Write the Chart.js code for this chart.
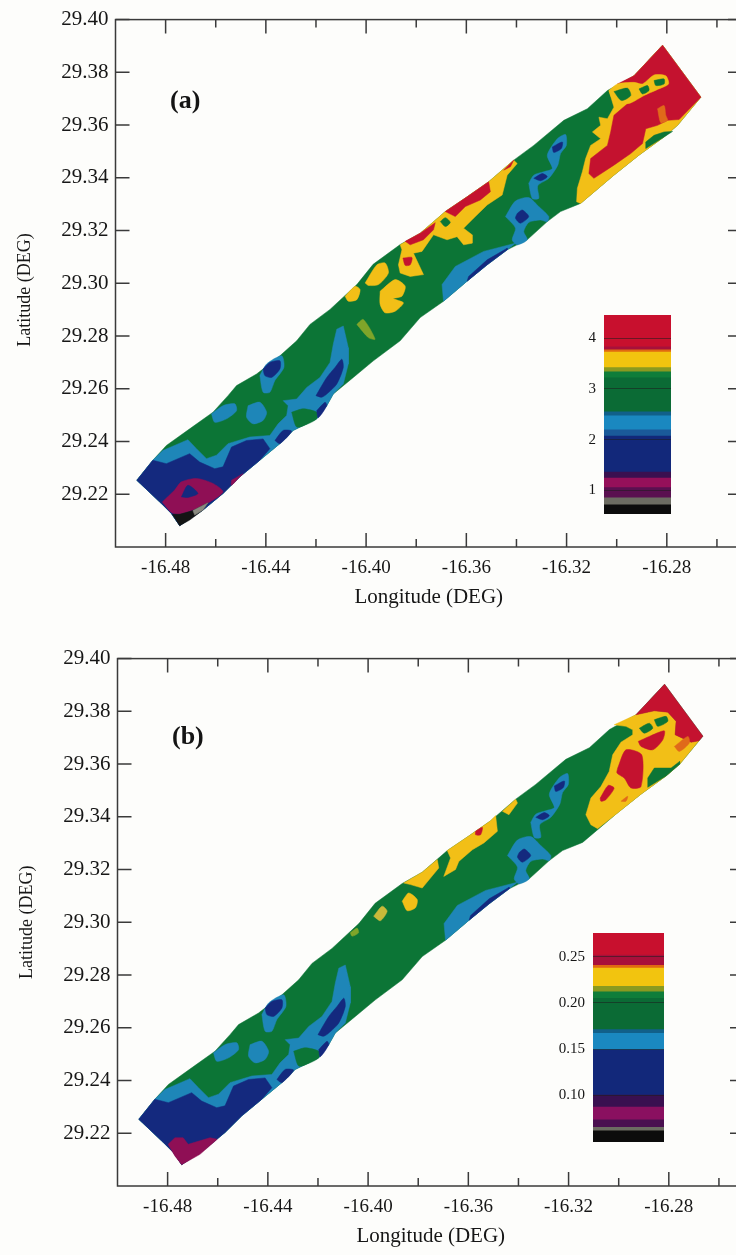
<!DOCTYPE html>
<html>
<head>
<meta charset="utf-8">
<title>Longitude / Latitude contour maps</title>
<script src="https://cdn.jsdelivr.net/npm/chart.js@4"></script>
<style>
  html, body { margin: 0; width: 736px; height: 1255px; overflow: hidden; background: #fdfdfb; }
  #page { position: relative; width: 736px; height: 1255px; filter: blur(0.5px); }
  canvas { position: absolute; }
  .tag { position: absolute; font: bold 26px "Liberation Serif", serif; color: #141414; }
</style>
</head>
<body>
<div id="page">
  <canvas id="mapA" style="left:0;top:0"></canvas>
  <canvas id="mapB" style="left:2px;top:639px"></canvas>
  <canvas id="barA" style="left:570px;top:298px"></canvas>
  <canvas id="barB" style="left:555px;top:916px"></canvas>
  <div class="tag" style="left:170px;top:85px">(a)</div>
  <div class="tag" style="left:172px;top:721px">(b)</div>
</div>
<script>
'use strict';

// ── Axis ticks ────────────────────────────────────────────────
const lonMajor = [-16.48, -16.44, -16.40, -16.36, -16.32, -16.28];
const lonMinor = [-16.46, -16.42, -16.38, -16.34, -16.30, -16.26];
const latTicks = [29.22, 29.24, 29.26, 29.28, 29.30, 29.32, 29.34, 29.36, 29.38, 29.40];

// ── Colour bars ───────────────────────────────────────────────
const barTicksA = [1, 2, 3, 4];
const barEdgesA = [0.53, 0.71, 0.85, 1.05, 1.24, 1.36, 2.07, 2.19, 2.47, 2.55, 3.22, 3.34, 3.42, 3.73, 3.77, 3.83, 4.01, 4.46];
const barTicksB = [0.10, 0.15, 0.20, 0.25];
const barEdgesB = [0.049, 0.061, 0.065, 0.073, 0.087, 0.100, 0.149, 0.167, 0.171, 0.205, 0.212, 0.218, 0.238, 0.241, 0.252, 0.276];
const barColorsA = ['#0c0c0c', '#6c6c62', '#5a1050', '#95105a', '#3a1050', '#12287a', '#1a5a9a', '#1a88c0', '#11608a', '#0b6b35', '#0f7d3a', '#8a9a20', '#f2c40f', '#e06a10', '#a8103a', '#c8102e', '#c8102e'];
const barColorsB = ['#0c0c0c', '#6c6c62', '#4a1050', '#8a1060', '#3a1050', '#12287a', '#1a88c0', '#11608a', '#0b6b35', '#0f7d3a', '#8a9a20', '#f2c40f', '#e06a10', '#a8103a', '#c8102e'];

// ── Track outline [lon, lat] ──────────────────────────────────
const outline = [
  [-16.4915,29.2253],[-16.4851,29.2329],[-16.4797,29.2385],[-16.4704,29.2448],[-16.4611,29.2511],[-16.4551,29.2574],
  [-16.4517,29.2612],[-16.4437,29.2656],[-16.4344,29.2725],[-16.4277,29.2782],[-16.4224,29.2844],[-16.4144,29.2901],
  [-16.4037,29.2995],[-16.3972,29.3072],[-16.3864,29.3147],[-16.3784,29.3190],[-16.3684,29.3272],[-16.3597,29.3328],
  [-16.3511,29.3385],[-16.3411,29.3467],[-16.3331,29.3523],[-16.3211,29.3618],[-16.3117,29.3662],[-16.3037,29.3731],
  [-16.2931,29.3787],[-16.2817,29.3903],[-16.2664,29.3706],[-16.2757,29.3599],[-16.2811,29.3555],[-16.2911,29.3486],
  [-16.3011,29.3410],[-16.3144,29.3303],[-16.3224,29.3272],[-16.3277,29.3234],[-16.3357,29.3165],[-16.3437,29.3127],
  [-16.3517,29.3070],[-16.3597,29.3008],[-16.3691,29.2932],[-16.3784,29.2870],[-16.3864,29.2782],[-16.3971,29.2706],
  [-16.4051,29.2643],[-16.4131,29.2580],[-16.4157,29.2536],[-16.4197,29.2486],[-16.4291,29.2442],[-16.4344,29.2392],
  [-16.4424,29.2329],[-16.4504,29.2266],[-16.4571,29.2203],[-16.4651,29.2140],[-16.4744,29.2081],[-16.4777,29.2127],
  [-16.4817,29.2165]
];

// ── Contours shared by both panels ────────────────────────────
const tealMain = [
  [-16.4851,29.2329],[-16.4811,29.2366],[-16.4711,29.2407],[-16.4677,29.2373],[-16.4637,29.2335],[-16.4597,29.2348],
  [-16.4551,29.2392],[-16.4464,29.2417],[-16.4384,29.2423],[-16.4351,29.2467],[-16.4317,29.2499],[-16.4311,29.2536],
  [-16.4331,29.2555],[-16.4277,29.2561],[-16.4237,29.2605],[-16.4184,29.2643],[-16.4144,29.2700],[-16.4131,29.2769],
  [-16.4117,29.2826],[-16.4091,29.2838],[-16.4071,29.2756],[-16.4071,29.2694],[-16.4091,29.2618],[-16.4131,29.2580],
  [-16.4157,29.2536],[-16.4197,29.2486],[-16.4291,29.2442],[-16.4344,29.2392],[-16.4424,29.2329],[-16.4504,29.2266],
  [-16.4571,29.2203],[-16.4651,29.2140],[-16.4744,29.2081],[-16.4777,29.2127],[-16.4817,29.2165],[-16.4915,29.2253]
];
const greenNotch = [[-16.4297,29.2511],[-16.4251,29.2524],[-16.4197,29.2511],[-16.4197,29.2486],[-16.4237,29.2465],[-16.4277,29.2455]];
const tealPatch1 = [[-16.4617,29.2505],[-16.4571,29.2536],[-16.4524,29.2543],[-16.4517,29.2517],[-16.4557,29.2486],[-16.4604,29.2473]];
const tealPatch2 = [[-16.4471,29.2536],[-16.4424,29.2549],[-16.4397,29.2511],[-16.4411,29.2480],[-16.4451,29.2467],[-16.4477,29.2492]];
const tealPatch3 = [[-16.4424,29.2650],[-16.4397,29.2694],[-16.4337,29.2725],[-16.4328,29.2681],[-16.4364,29.2631],[-16.4384,29.2587],[-16.4411,29.2587]];
const navyMain = [
  [-16.4915,29.2253],[-16.4851,29.2329],[-16.4797,29.2316],[-16.4704,29.2354],[-16.4664,29.2322],[-16.4604,29.2297],
  [-16.4571,29.2304],[-16.4537,29.2379],[-16.4477,29.2404],[-16.4411,29.2410],[-16.4384,29.2373],[-16.4424,29.2329],
  [-16.4504,29.2266],[-16.4571,29.2203],[-16.4651,29.2140],[-16.4744,29.2081],[-16.4777,29.2127],[-16.4817,29.2165]
];
const navyLobe = [[-16.4364,29.2404],[-16.4331,29.2442],[-16.4297,29.2439],[-16.4344,29.2392]];
const navyPatch1 = [[-16.4200,29.2574],[-16.4157,29.2643],[-16.4124,29.2681],[-16.4097,29.2712],[-16.4091,29.2681],[-16.4117,29.2618],[-16.4157,29.2580],[-16.4177,29.2568]];
const navyPatch2 = [[-16.4197,29.2517],[-16.4164,29.2549],[-16.4157,29.2536],[-16.4191,29.2490]];
const navyPatch3 = [[-16.4411,29.2675],[-16.4384,29.2700],[-16.4344,29.2706],[-16.4344,29.2675],[-16.4377,29.2643],[-16.4404,29.2650]];
const tealChain1 = [
  [-16.3444,29.3253],[-16.3404,29.3312],[-16.3351,29.3325],[-16.3311,29.3291],[-16.3271,29.3253],[-16.3277,29.3234],
  [-16.3304,29.3240],[-16.3351,29.3231],[-16.3371,29.3196],[-16.3357,29.3165],[-16.3397,29.3146],[-16.3417,29.3165],[-16.3404,29.3209]
];
const tealChain2 = [
  [-16.3351,29.3379],[-16.3331,29.3410],[-16.3291,29.3423],[-16.3257,29.3435],[-16.3277,29.3486],[-16.3237,29.3548],
  [-16.3204,29.3564],[-16.3201,29.3523],[-16.3224,29.3492],[-16.3235,29.3448],[-16.3271,29.3398],[-16.3315,29.3370],
  [-16.3311,29.3322],[-16.3337,29.3322]
];
const tealLower = [[-16.3697,29.2995],[-16.3644,29.3064],[-16.3531,29.3121],[-16.3404,29.3152],[-16.3437,29.3127],[-16.3517,29.3070],[-16.3597,29.3008],[-16.3691,29.2932]];
const navyLower = [[-16.3591,29.3026],[-16.3517,29.3089],[-16.3437,29.3133],[-16.3437,29.3127],[-16.3517,29.3070],[-16.3597,29.3008]];
const navyDot1 = [[-16.3397,29.3265],[-16.3377,29.3278],[-16.3351,29.3253],[-16.3384,29.3228],[-16.3404,29.3247]];
const navyDot2 = [[-16.3257,29.3517],[-16.3217,29.3536],[-16.3221,29.3511],[-16.3251,29.3496]];
const navyDot3 = [[-16.3331,29.3398],[-16.3297,29.3416],[-16.3277,29.3404],[-16.3304,29.3389]];

// ── Panel (a) only ────────────────────────────────────────────
const magentaA = [[-16.4813,29.2171],[-16.4764,29.2216],[-16.4737,29.2247],[-16.4677,29.2260],[-16.4611,29.2241],[-16.4571,29.2209],[-16.4624,29.2171],[-16.4691,29.2140],[-16.4744,29.2125],[-16.4777,29.2131]];
const holeA = [[-16.4737,29.2190],[-16.4711,29.2234],[-16.4671,29.2203],[-16.4711,29.2188]];
const magentaSmallA = [[-16.4537,29.2253],[-16.4491,29.2278],[-16.4504,29.2266],[-16.4537,29.2234]];
const blackA = [[-16.4773,29.2124],[-16.4744,29.2124],[-16.4691,29.2138],[-16.4631,29.2168],[-16.4651,29.2140],[-16.4704,29.2102],[-16.4744,29.2081]];
const greyA = [[-16.4691,29.2138],[-16.4631,29.2168],[-16.4651,29.2140],[-16.4684,29.2121]];
const limeA = [[-16.4037,29.2844],[-16.4011,29.2863],[-16.3964,29.2788],[-16.3991,29.2794]];
const yellowA1 = [[-16.4084,29.2951],[-16.4044,29.2989],[-16.4024,29.2976],[-16.4037,29.2938],[-16.4071,29.2932]];
const yellowA2 = [[-16.4004,29.3001],[-16.3957,29.3070],[-16.3924,29.3077],[-16.3911,29.3039],[-16.3951,29.2995],[-16.3991,29.2992]];
const yellowA3 = [[-16.3944,29.2970],[-16.3884,29.3014],[-16.3844,29.2989],[-16.3857,29.2951],[-16.3891,29.2942],[-16.3851,29.2926],[-16.3884,29.2894],[-16.3924,29.2888],[-16.3944,29.2920]];
const yellowMidA = [
  [-16.3864,29.3146],[-16.3784,29.3190],[-16.3684,29.3272],[-16.3597,29.3328],[-16.3511,29.3385],[-16.3411,29.3467],
  [-16.3397,29.3454],[-16.3437,29.3410],[-16.3457,29.3335],[-16.3517,29.3297],[-16.3571,29.3247],[-16.3611,29.3209],
  [-16.3577,29.3184],[-16.3577,29.3152],[-16.3611,29.3146],[-16.3637,29.3177],[-16.3677,29.3165],[-16.3731,29.3184],
  [-16.3777,29.3121],[-16.3811,29.3114],[-16.3771,29.3033],[-16.3824,29.3026],[-16.3864,29.3039],[-16.3871,29.3070],[-16.3857,29.3127]
];
const redDotA = [[-16.3853,29.3096],[-16.3817,29.3098],[-16.3824,29.3070],[-16.3844,29.3068]];
const redStripA1 = [[-16.3844,29.3159],[-16.3784,29.3190],[-16.3724,29.3230],[-16.3731,29.3203],[-16.3771,29.3165],[-16.3824,29.3146]];
const redStripA2 = [[-16.3684,29.3272],[-16.3597,29.3328],[-16.3511,29.3385],[-16.3504,29.3347],[-16.3544,29.3316],[-16.3604,29.3291],[-16.3644,29.3253]];
const redStripA3 = [[-16.3451,29.3429],[-16.3411,29.3467],[-16.3424,29.3442]];
const greenDotA = [[-16.3704,29.3234],[-16.3684,29.3249],[-16.3664,29.3231],[-16.3684,29.3215]];
const yellowEastA = [
  [-16.3031,29.3731],[-16.2931,29.3787],[-16.2817,29.3903],[-16.2664,29.3706],[-16.2757,29.3599],[-16.2811,29.3555],
  [-16.2911,29.3486],[-16.3011,29.3410],[-16.3144,29.3303],[-16.3160,29.3309],[-16.3157,29.3360],[-16.3137,29.3423],
  [-16.3124,29.3473],[-16.3104,29.3523],[-16.3064,29.3548],[-16.3097,29.3574],[-16.3064,29.3599],[-16.3071,29.3630],
  [-16.3037,29.3624],[-16.3011,29.3668]
];
const redEastA = [
  [-16.2997,29.3756],[-16.2931,29.3787],[-16.2817,29.3903],[-16.2664,29.3706],[-16.2751,29.3621],[-16.2797,29.3618],
  [-16.2837,29.3599],[-16.2884,29.3586],[-16.2897,29.3530],[-16.2944,29.3492],[-16.3011,29.3448],[-16.3091,29.3398],
  [-16.3111,29.3416],[-16.3104,29.3473],[-16.3037,29.3523],[-16.3024,29.3574],[-16.3011,29.3637],[-16.2957,29.3681],[-16.2904,29.3706]
];
const ringA = [
  [-16.3031,29.3731],[-16.2997,29.3756],[-16.2931,29.3762],[-16.2897,29.3756],[-16.2851,29.3790],[-16.2804,29.3787],
  [-16.2793,29.3756],[-16.2837,29.3735],[-16.2891,29.3712],[-16.2944,29.3684],[-16.2984,29.3681],[-16.3017,29.3699]
];
const isleA1 = [[-16.3011,29.3727],[-16.2957,29.3740],[-16.2944,29.3712],[-16.2981,29.3693]];
const isleA2 = [[-16.2911,29.3737],[-16.2877,29.3750],[-16.2871,29.3731],[-16.2897,29.3718]];
const isleA3 = [[-16.2851,29.3769],[-16.2811,29.3775],[-16.2811,29.3756],[-16.2844,29.3750]];
const spikeA = [[-16.2837,29.3662],[-16.2811,29.3674],[-16.2804,29.3637],[-16.2797,29.3618],[-16.2824,29.3609]];
const greenSouthA = [[-16.2884,29.3536],[-16.2851,29.3561],[-16.2811,29.3574],[-16.2777,29.3576],[-16.2811,29.3555],[-16.2884,29.3511]];

// ── Panel (b) only ────────────────────────────────────────────
const magentaB = [[-16.4798,29.2158],[-16.4771,29.2183],[-16.4738,29.2183],[-16.4718,29.2158],[-16.4631,29.2183],[-16.4602,29.2177],[-16.4671,29.2120],[-16.4744,29.2081],[-16.4771,29.2114]];
const yellowStripB1 = [[-16.3858,29.3149],[-16.3784,29.3190],[-16.3724,29.3238],[-16.3718,29.3206],[-16.3751,29.3168],[-16.3784,29.3130],[-16.3831,29.3143]];
const yellowStripB2 = [[-16.3684,29.3272],[-16.3597,29.3328],[-16.3511,29.3385],[-16.3491,29.3405],[-16.3484,29.3345],[-16.3538,29.3301],[-16.3584,29.3275],[-16.3638,29.3231],[-16.3651,29.3200],[-16.3698,29.3174],[-16.3671,29.3244]];
const yellowStripB3 = [[-16.3464,29.3421],[-16.3411,29.3467],[-16.3404,29.3452],[-16.3438,29.3408]];
const redTinyB = [[-16.3571,29.3345],[-16.3544,29.3360],[-16.3551,29.3332],[-16.3571,29.3332]];
const yellowDotB = [[-16.3864,29.3080],[-16.3838,29.3111],[-16.3804,29.3086],[-16.3811,29.3055],[-16.3844,29.3044]];
const paleDotB1 = [[-16.3978,29.3023],[-16.3944,29.3061],[-16.3924,29.3042],[-16.3951,29.3006]];
const paleDotB2 = [[-16.4071,29.2960],[-16.4044,29.2978],[-16.4038,29.2960],[-16.4064,29.2947]];
const yellowEastB = [
  [-16.3018,29.3749],[-16.2931,29.3787],[-16.2858,29.3802],[-16.2804,29.3797],[-16.2771,29.3762],[-16.2775,29.3711],
  [-16.2711,29.3683],[-16.2680,29.3688],[-16.2757,29.3599],[-16.2811,29.3555],[-16.2911,29.3486],[-16.3011,29.3410],
  [-16.3084,29.3355],[-16.3111,29.3370],[-16.3131,29.3408],[-16.3111,29.3471],[-16.3071,29.3515],[-16.3038,29.3572],
  [-16.3024,29.3635],[-16.2991,29.3683],[-16.2944,29.3711],[-16.2944,29.3730],[-16.2971,29.3743]
];
const redEastB = [[-16.2931,29.3787],[-16.2817,29.3903],[-16.2664,29.3706],[-16.2680,29.3688],[-16.2711,29.3683],[-16.2775,29.3711],[-16.2771,29.3762],[-16.2804,29.3797],[-16.2858,29.3802]];
const isleB1 = [[-16.2918,29.3736],[-16.2878,29.3755],[-16.2864,29.3736],[-16.2898,29.3717]];
const isleB2 = [[-16.2858,29.3768],[-16.2811,29.3781],[-16.2804,29.3762],[-16.2844,29.3743]];
const redB1 = [[-16.2922,29.3686],[-16.2878,29.3705],[-16.2818,29.3726],[-16.2824,29.3692],[-16.2864,29.3654],[-16.2911,29.3667]];
const redB2 = [[-16.3004,29.3585],[-16.2971,29.3654],[-16.2908,29.3635],[-16.2911,29.3515],[-16.2951,29.3509],[-16.2978,29.3547],[-16.3007,29.3566]];
const redB3 = [[-16.3074,29.3471],[-16.3042,29.3519],[-16.3018,29.3509],[-16.3051,29.3465],[-16.3071,29.3459]];
const orangeB1 = [[-16.2991,29.3459],[-16.2964,29.3478],[-16.2971,29.3459]];
const orangeB2 = [[-16.2778,29.3667],[-16.2724,29.3705],[-16.2718,29.3680],[-16.2758,29.3648]];
const greenSouthB = [[-16.2884,29.3547],[-16.2858,29.3585],[-16.2791,29.3585],[-16.2757,29.3610],[-16.2757,29.3599],[-16.2811,29.3555],[-16.2884,29.3512]];

// ── Colours ───────────────────────────────────────────────────
const GREEN = '#0c7536', TEAL = '#1e86b8', NAVY = '#14297e', MAGENTA = '#8f0f55', RED = '#c4122f',
      YELLOW = '#f2bf17', ORANGE = '#e06a1a', LIME = '#7fa52a', PALE = '#c9b93a', BLACK = '#141414', GREY = '#8a8a80';

const sharedLayers = [
  [outline, GREEN], [tealMain, TEAL], [greenNotch, GREEN], [tealPatch1, TEAL], [tealPatch2, TEAL], [tealPatch3, TEAL],
  [navyMain, NAVY], [navyLobe, NAVY], [navyPatch1, NAVY], [navyPatch2, NAVY], [navyPatch3, NAVY],
  [tealChain1, TEAL], [tealChain2, TEAL], [tealLower, TEAL], [navyLower, NAVY], [navyDot1, NAVY], [navyDot2, NAVY], [navyDot3, NAVY]
];
const layersA = sharedLayers.concat([
  [magentaA, MAGENTA], [holeA, NAVY], [magentaSmallA, MAGENTA], [blackA, BLACK], [greyA, GREY],
  [limeA, LIME], [yellowA1, YELLOW], [yellowA2, YELLOW], [yellowA3, YELLOW], [yellowMidA, YELLOW],
  [redDotA, RED], [redStripA1, RED], [redStripA2, RED], [redStripA3, RED], [greenDotA, GREEN],
  [yellowEastA, YELLOW], [redEastA, RED], [ringA, YELLOW], [isleA1, GREEN], [isleA2, GREEN], [isleA3, GREEN],
  [spikeA, ORANGE], [greenSouthA, GREEN]
]);
const layersB = sharedLayers.concat([
  [magentaB, MAGENTA], [yellowStripB1, YELLOW], [yellowStripB2, YELLOW], [yellowStripB3, YELLOW], [redTinyB, RED],
  [yellowDotB, YELLOW], [paleDotB1, PALE], [paleDotB2, LIME],
  [yellowEastB, YELLOW], [redEastB, RED], [isleB1, GREEN], [isleB2, GREEN], [redB1, RED], [redB2, RED], [redB3, RED],
  [orangeB1, ORANGE], [orangeB2, ORANGE], [greenSouthB, GREEN]
]);
// these run along the track edge, rounding them would spill past the outline
const edgeShapes = new Set([
  outline, tealMain, navyMain, yellowMidA, yellowEastA, redEastA, yellowEastB, redEastB,
  redStripA1, redStripA2, redStripA3, yellowStripB1, yellowStripB2, yellowStripB3, tealLower, navyLower,
  magentaB, blackA, greyA, greenSouthA, greenSouthB
]);

const SERIF = '"Liberation Serif", serif';
const INK = '#161616';

// Inward tick marks and the box round the plot
const insideTicks = {
  id: 'insideTicks',
  afterDraw(chart) {
    const { ctx, chartArea: a, scales: { x, y } } = chart;
    ctx.save();
    ctx.strokeStyle = '#3a3a3a';
    ctx.lineWidth = 1.5;
    ctx.strokeRect(a.left, a.top, a.right - a.left, a.bottom - a.top);
    ctx.beginPath();
    const xMark = (v, len) => {
      const p = x.getPixelForValue(v);
      ctx.moveTo(p, a.bottom); ctx.lineTo(p, a.bottom - len);
      ctx.moveTo(p, a.top);    ctx.lineTo(p, a.top + len);
    };
    lonMajor.forEach(v => xMark(v, 14));
    lonMinor.forEach(v => xMark(v, 8));
    latTicks.forEach(v => {
      const p = y.getPixelForValue(v);
      ctx.moveTo(a.left, p);  ctx.lineTo(a.left + 14, p);
      ctx.moveTo(a.right, p); ctx.lineTo(a.right - 14, p);
    });
    ctx.stroke();
    ctx.restore();
  }
};

function buildMap(id, layers, latTitle) {
  const canvas = document.getElementById(id);
  canvas.width = 760; canvas.height = 614;
  canvas.style.width = '760px'; canvas.style.height = '614px';
  return new Chart(canvas.getContext('2d'), {
    type: 'scatter',
    // datasets paint last to first, so the base layer goes at the end
    data: { datasets: layers.map(([poly, color]) => ({
      data: poly.concat([poly[0]]).map(([x, y]) => ({ x, y })),
      showLine: true, fill: 'shape', backgroundColor: color, borderColor: color,
      borderWidth: 0.5, pointRadius: 0, tension: edgeShapes.has(poly) ? 0 : 0.25
    })).reverse() },
    options: {
      responsive: false, animation: false, events: [],
      layout: { padding: { top: 18, right: 18, left: 0, bottom: 0 } },
      plugins: { legend: { display: false }, tooltip: { enabled: false } },
      scales: {
        x: {
          type: 'linear', min: -16.5, max: -16.25,
          afterBuildTicks: s => { s.ticks = lonMajor.map(value => ({ value })); },
          afterFit: s => { s.height = 67; },
          grid: { display: false, drawTicks: false }, border: { display: false },
          ticks: { padding: 10, color: INK, autoSkip: false, maxRotation: 0, font: { family: SERIF, size: 19 }, callback: v => v.toFixed(2) },
          title: { display: true, text: 'Longitude (DEG)', color: INK, font: { family: SERIF, size: 21 }, padding: { top: 0, bottom: 4 } }
        },
        y: {
          type: 'linear', min: 29.2, max: 29.4,
          afterBuildTicks: s => { s.ticks = latTicks.map(value => ({ value })); },
          afterFit: s => { s.width = 115.5; },
          grid: { display: false, drawTicks: false }, border: { display: false },
          ticks: { padding: 7, color: INK, autoSkip: false, font: { family: SERIF, size: 21 }, callback: v => v.toFixed(2) },
          title: { display: true, text: latTitle, color: INK, font: { family: SERIF, size: 18 }, padding: { top: 14, bottom: 0 } }
        }
      }
    },
    plugins: [insideTicks]
  });
}

function buildBar(id, w, h, pad, edges, colors, ticks, digits, fontSize) {
  const canvas = document.getElementById(id);
  canvas.width = w; canvas.height = h;
  canvas.style.width = w + 'px'; canvas.style.height = h + 'px';
  return new Chart(canvas.getContext('2d'), {
    type: 'bar',
    data: { labels: [''], datasets: colors.map((c, i) => ({
      data: [[edges[i], edges[i + 1]]], backgroundColor: c, borderWidth: 0,
      barPercentage: 1, categoryPercentage: 1, grouped: false
    })) },
    options: {
      responsive: false, animation: false, events: [],
      layout: { padding: { left: 0, top: 0, right: pad.right, bottom: 0 } },
      plugins: { legend: { display: false }, tooltip: { enabled: false } },
      scales: {
        x: { display: false, grid: { display: false } },
        y: {
          type: 'linear', min: edges[0], max: edges[edges.length - 1],
          afterBuildTicks: s => { s.ticks = ticks.map(value => ({ value })); },
          afterFit: s => { s.width = pad.left; },
          grid: { z: 1, color: 'rgba(30,30,30,0.55)', drawTicks: false }, border: { display: false },
          ticks: { padding: 8, color: INK, font: { family: SERIF, size: fontSize }, callback: v => v.toFixed(digits) }
        }
      }
    }
  });
}

// trailing spaces nudge the rotated title down along the axis, as on the original
buildMap('mapA', layersA, 'Latitude (DEG)   ');
buildMap('mapB', layersB, 'Latitude (DEG)');
buildBar('barA', 110, 233, { left: 34, right: 9 }, barEdgesA, barColorsA, barTicksA, 0, 15);
buildBar('barB', 120, 243, { left: 38, right: 11 }, barEdgesB, barColorsB, barTicksB, 2, 15);
</script>
</body>
</html>
